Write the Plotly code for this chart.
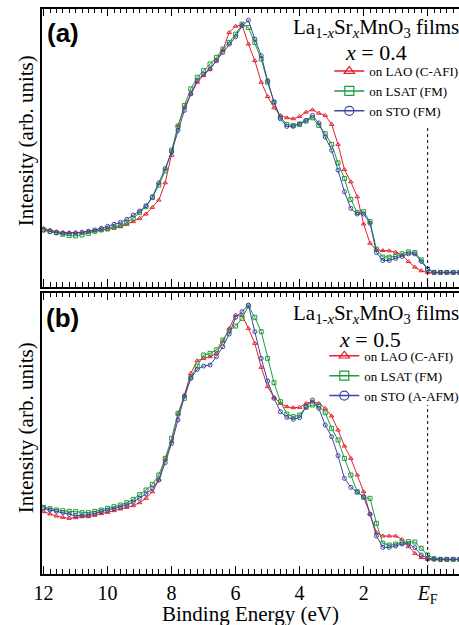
import plotly.graph_objects as go

# Binding energy grid (eV)
energy = [12.0, 11.8, 11.6, 11.4, 11.2, 11.0, 10.8, 10.6, 10.4, 10.2, 10.0, 9.8, 9.6, 9.4, 9.2,
          9.0, 8.8, 8.6, 8.4, 8.2, 8.0, 7.8, 7.6, 7.4, 7.2, 7.0, 6.8, 6.6, 6.4, 6.2, 6.0, 5.8,
          5.6, 5.4, 5.2, 5.0, 4.8, 4.6, 4.4, 4.2, 4.0, 3.8, 3.6, 3.4, 3.2, 3.0, 2.8, 2.6, 2.4,
          2.2, 2.0, 1.8, 1.6, 1.4, 1.2, 1.0, 0.8, 0.6, 0.4, 0.2, 0.0, -0.2, -0.4, -0.6, -0.8, -1.0]

# Panel (a): x = 0.4 (intensity, arb. units)
lao_a = [133, 128, 123, 121, 120, 120, 121, 123, 125, 127, 130, 134, 138, 145, 153, 163, 176, 196,
         218, 270, 353, 443, 498, 538, 573, 593, 613, 638, 670, 723, 742, 746, 688, 638, 573, 530,
         496, 473, 466, 463, 470, 483, 490, 480, 473, 446, 386, 310, 273, 228, 146, 88, 68, 66, 65,
         61, 52, 33, 16, 5, 0, 0, 0, 0, 0, 0]
lsat_a = [128, 124, 120, 115, 111, 110, 113, 118, 124, 128, 131, 136, 141, 150, 163, 180, 198, 226,
          263, 306, 368, 440, 503, 553, 588, 608, 628, 648, 673, 693, 718, 748, 738, 693, 643, 573,
          513, 468, 446, 443, 446, 456, 466, 443, 418, 386, 330, 283, 220, 180, 183, 153, 70, 46, 46,
          48, 56, 62, 60, 38, 10, 0, 0, 0, 0, 0]
sto_a = [128, 123, 119, 118, 118, 119, 121, 124, 128, 133, 139, 145, 151, 160, 173, 185, 201, 228,
         270, 313, 363, 428, 488, 538, 578, 598, 613, 638, 663, 688, 710, 743, 760, 703, 653, 578,
         513, 463, 440, 440, 448, 458, 473, 450, 408, 368, 308, 243, 193, 176, 176, 148, 60, 36, 36,
         42, 48, 56, 56, 33, 10, 0, 0, 0, 0, 0]

# Panel (b): x = 0.5
lao_b = [143, 136, 130, 126, 123, 125, 128, 128, 132, 137, 141, 146, 151, 156, 161, 170, 183, 203,
         238, 300, 353, 436, 493, 558, 596, 603, 608, 618, 653, 693, 733, 732, 693, 648, 576, 518,
         486, 468, 458, 455, 456, 468, 473, 468, 453, 430, 388, 340, 303, 253, 203, 136, 80, 70, 70,
         70, 60, 38, 18, 5, 0, 0, 0, 0, 0, 0]
lsat_b = [156, 152, 148, 146, 144, 143, 140, 140, 144, 148, 153, 158, 163, 170, 180, 194, 208, 225,
          253, 303, 363, 438, 483, 546, 580, 613, 618, 628, 658, 686, 700, 723, 760, 726, 683, 603,
          530, 473, 436, 428, 433, 456, 463, 460, 440, 393, 358, 303, 253, 203, 186, 183, 108, 48, 43,
          46, 50, 53, 52, 33, 13, 2, 0, 0, 0, 0]
sto_b = [153, 148, 144, 140, 135, 131, 131, 133, 138, 143, 147, 151, 156, 163, 172, 183, 196, 213,
         238, 290, 348, 418, 490, 543, 570, 580, 583, 608, 638, 676, 726, 743, 763, 683, 603, 535,
         483, 443, 426, 420, 425, 458, 478, 453, 403, 368, 311, 243, 216, 201, 188, 136, 70, 36, 36,
         40, 46, 46, 35, 13, 3, 0, 0, 0, 0, 0]

names_a = ["on LAO (C-AFI)", "on LSAT (FM)", "on STO (FM)"]
names_b = ["on LAO (C-AFI)", "on LSAT (FM)", "on STO (A-AFM)"]
label_vals = [12, 10, 8, 6, 4, 2, 0]
label_text = ["12", "10", "8", "6", "4", "2", "<i>E</i><sub>F</sub>"]
odd_vals = [11, 9, 7, 5, 3, 1]

RED, GREEN, BLUE = "#e4202f", "#1f9b3b", "#3c479d"
colors = [RED, GREEN, BLUE]
symbols = ["triangle-up-open", "square-open", "circle-open"]
SERIF = "Liberation Serif"
XRANGE = [12.05, -0.98]

fig = go.Figure()

panels = [
    ("x", "y", [lao_a, lsat_a, sto_a], names_a, "legend"),
    ("x2", "y2", [lao_b, lsat_b, sto_b], names_b, "legend2"),
]
for xa, ya, series, names, leg in panels:
    for vals, name, col, sym in zip(series, names, colors, symbols):
        fig.add_trace(go.Scatter(
            x=energy, y=vals, xaxis=xa, yaxis=ya, mode="lines+markers",
            line=dict(color=col, width=1),
            marker=dict(symbol=sym, size=4, color=col, line=dict(width=1, color=col)),
            showlegend=False, hoverinfo="skip"))
    for name, col, sym in zip(names, colors, symbols):
        fig.add_trace(go.Scatter(
            x=[None], y=[None], xaxis=xa, yaxis=ya, mode="lines+markers", name=name,
            line=dict(color=col, width=1.5),
            marker=dict(symbol=sym, size=9, color=col, line=dict(width=1.2, color=col)),
            legend=leg, showlegend=True))

xcommon = dict(range=XRANGE, showline=True, linecolor="black", linewidth=1.5,
               mirror="allticks", ticks="inside", ticklen=8, tickwidth=1, tickcolor="black",
               tickvals=label_vals, ticktext=label_text, showgrid=False, zeroline=False,
               minor=dict(dtick=0.2, tick0=0, ticks="inside", ticklen=5, tickwidth=1,
                          tickcolor="black", showgrid=False),
               tickfont=dict(family=SERIF, size=20, color="black"))
xodd = dict(range=XRANGE, showline=True, linecolor="black", linewidth=1.5,
            mirror="allticks", ticks="inside", ticklen=8, tickwidth=1, tickcolor="black",
            tickvals=odd_vals, showticklabels=False, showgrid=False, zeroline=False)
ycommon = dict(showline=True, linecolor="black", linewidth=1.5, mirror=True, ticks="",
               showticklabels=False, showgrid=False, zeroline=False)

legfont = dict(family=SERIF, size=13, color="black")
fig.update_layout(
    width=459, height=625,
    margin=dict(l=42, r=0, t=8, b=51, autoexpand=False),
    paper_bgcolor="white", plot_bgcolor="white",
    font=dict(family=SERIF, color="black"),
    xaxis=dict(xcommon, anchor="y", domain=[0, 1], showticklabels=False),
    yaxis=dict(ycommon, anchor="x", domain=[0.507, 0.999], range=[-44, 795]),
    xaxis2=dict(xcommon, anchor="y2", domain=[0, 1], showticklabels=True),
    yaxis2=dict(ycommon, anchor="x2", domain=[0, 0.497], range=[-44, 800]),
    xaxis3=dict(xodd, anchor="y", overlaying="x"),
    xaxis4=dict(xodd, anchor="y2", overlaying="x2"),
    legend=dict(x=0.689, y=0.915, xanchor="left", yanchor="top", bgcolor="rgba(0,0,0,0)",
                font=legfont, tracegroupgap=0),
    legend2=dict(x=0.677, y=0.412, xanchor="left", yanchor="top", bgcolor="rgba(0,0,0,0)",
                 font=legfont, tracegroupgap=0),
    showlegend=True,
)

# E_F reference lines
fig.add_shape(type="line", xref="x", yref="y", x0=0, x1=0, y0=-44, y1=443,
              line=dict(color="black", width=1, dash="dot"))
fig.add_shape(type="line", xref="x2", yref="y2", x0=0, x1=0, y0=-44, y1=463,
              line=dict(color="black", width=1, dash="dot"))

ann = []
ann.append(dict(text="<b>(a)</b>", x=0.050, y=0.956, xref="paper", yref="paper",
                xanchor="center", yanchor="middle", showarrow=False,
                font=dict(family="Liberation Sans", size=26, color="black")))
ann.append(dict(text="<b>(b)</b>", x=0.048, y=0.452, xref="paper", yref="paper",
                xanchor="center", yanchor="middle", showarrow=False,
                font=dict(family="Liberation Sans", size=26, color="black")))
title_txt = "La<sub>1-<i>x</i></sub>Sr<sub><i>x</i></sub>MnO<sub>3</sub> films"
ann.append(dict(text=title_txt, x=1.005, y=0.964, xref="paper", yref="paper",
                xanchor="right", yanchor="middle", showarrow=False,
                font=dict(family=SERIF, size=21, color="black")))
ann.append(dict(text="<i>x</i> = 0.4", x=0.80, y=0.921, xref="paper", yref="paper",
                xanchor="center", yanchor="middle", showarrow=False,
                font=dict(family=SERIF, size=22, color="black")))
ann.append(dict(text=title_txt, x=1.005, y=0.459, xref="paper", yref="paper",
                xanchor="right", yanchor="middle", showarrow=False,
                font=dict(family=SERIF, size=21, color="black")))
ann.append(dict(text="<i>x</i> = 0.5", x=0.787, y=0.415, xref="paper", yref="paper",
                xanchor="center", yanchor="middle", showarrow=False,
                font=dict(family=SERIF, size=22, color="black")))
for yc in (0.765, 0.258):
    ann.append(dict(text="Intensity (arb. units)", x=-0.038, y=yc, xref="paper", yref="paper",
                    xanchor="center", yanchor="middle", textangle=-90, showarrow=False,
                    font=dict(family=SERIF, size=21, color="black")))
ann.append(dict(text="Binding Energy (eV)", x=0.50, y=-0.071, xref="paper", yref="paper",
                xanchor="center", yanchor="middle", showarrow=False,
                font=dict(family=SERIF, size=21, color="black")))
fig.update_layout(annotations=ann)

fig.write_html("out.html", config={"displayModeBar": False},
               post_script="document.body.style.margin='0';document.body.style.overflow='hidden';")
